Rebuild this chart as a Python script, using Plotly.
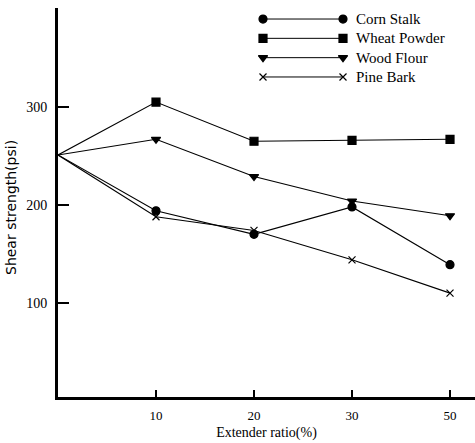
import plotly.graph_objects as go

# ---- data ----
extender_ratio = ["0", "10", "20", "30", "50"]
corn_stalk = [251, 194, 170, 198, 139]
wheat_powder = [251, 305, 265, 266, 267]
wood_flour = [251, 267, 229, 204, 189]
pine_bark = [251, 188, 174, 144, 110]
series_names = ["Corn Stalk", "Wheat Powder", "Wood Flour", "Pine Bark"]
y_ticks = [100, 200, 300]

positions = list(range(len(extender_ratio)))
series = [corn_stalk, wheat_powder, wood_flour, pine_bark]
symbols = ["circle", "square", "triangle-down", "x-thin"]
msizes = [8, 8, 8, 7]

SERIF = "Liberation Serif"
SANS = "DejaVu Sans"

# plot area in pixels (for paper-coordinate helpers)
L, R, T, B, W, H = 58, 0, 8, 46, 475, 443
PW, PH = W - L - R, H - T - B


def px_x(px):
    return (px - L) / PW


def px_y(py):
    return (H - B - py) / PH


fig = go.Figure()
for name, vals, sym, ms in zip(series_names, series, symbols, msizes):
    fig.add_trace(go.Scatter(
        x=positions, y=vals, mode="lines", name=name,
        line=dict(color="black", width=1.1),
        showlegend=False, cliponaxis=False, hoverinfo="skip",
    ))
    fig.add_trace(go.Scatter(
        x=positions[1:], y=vals[1:], mode="markers", name=name,
        marker=dict(symbol=sym, size=ms, color="#000000", opacity=1,
                    line=dict(color="#000000", width=1.2)),
        showlegend=False, cliponaxis=False,
    ))

# custom legend (markers at both ends of a line sample), drawn on overlay axes
row_px = [19, 38, 58, 77]
for i, (name, sym, ms) in enumerate(zip(series_names, symbols, msizes)):
    fig.add_trace(go.Scatter(
        x=[0, 1], y=[i, i], mode="lines+markers", xaxis="x2", yaxis="y2",
        line=dict(color="black", width=1),
        marker=dict(symbol=sym, size=ms, color="black", line=dict(color="black", width=1.2)),
        showlegend=False, hoverinfo="skip", cliponaxis=False,
    ))
    fig.add_annotation(x=px_x(354), y=px_y(row_px[i]), xref="paper", yref="paper",
                       text=name, showarrow=False, xanchor="left", yanchor="middle",
                       font=dict(family=SERIF, size=15, color="black"))

# y-axis title as annotation (positioned like the reference)
fig.add_annotation(x=px_x(11), y=px_y(208), xref="paper", yref="paper",
                   text="Shear strength(psi)", textangle=-90, showarrow=False,
                   xanchor="center", yanchor="middle",
                   font=dict(family=SANS, size=14, color="black"))

fig.update_layout(
    width=W, height=H,
    margin=dict(l=L, r=R, t=T, b=B),
    paper_bgcolor="white", plot_bgcolor="white",
    font=dict(family=SERIF, size=13, color="black"),
    xaxis=dict(
        range=[0, 4.255], tickvals=positions[1:], ticktext=extender_ratio[1:],
        ticks="inside", ticklen=7, tickwidth=1.5, tickcolor="black",
        showline=True, linewidth=3, linecolor="black", showgrid=False, zeroline=False,
        title=dict(text="Extender ratio(%)", font=dict(family=SERIF, size=14), standoff=6),
        tickfont=dict(family=SERIF, size=13), ticklabelstandoff=4,
    ),
    yaxis=dict(
        range=[4, 401], tickvals=y_ticks,
        ticks="inside", ticklen=11, tickwidth=1.5, tickcolor="black",
        showline=True, linewidth=3, linecolor="black", showgrid=False, zeroline=False,
        tickfont=dict(family=SERIF, size=14), ticklabelstandoff=5,
    ),
    xaxis2=dict(domain=[px_x(263), px_x(343)], range=[0, 1], visible=False, anchor="y2"),
    yaxis2=dict(domain=[px_y(81.8), px_y(14.2)], range=[3.25, -0.25],
                visible=False, anchor="x2"),
)

fig.write_html("out.html")
